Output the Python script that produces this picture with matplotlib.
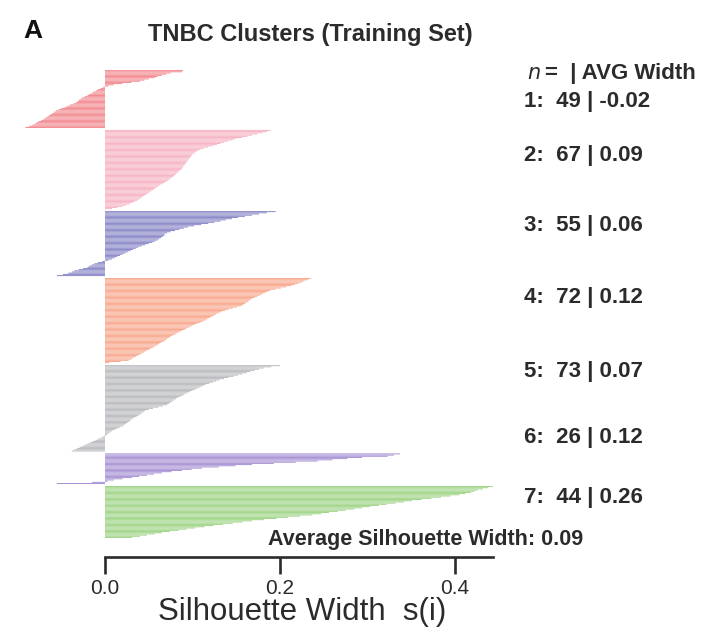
import matplotlib
matplotlib.use("Agg")
import matplotlib.pyplot as plt
import numpy as np

# ---------------- data ----------------
cluster_ids = [1, 2, 3, 4, 5, 6, 7]
cluster_n = [49, 67, 55, 72, 73, 26, 44]
cluster_avg = ["-0.02", "0.09", "0.06", "0.12", "0.07", "0.12", "0.26"]
overall_avg = "0.09"

sil_c1 = [0.089, 0.088, 0.075, 0.070, 0.065, 0.060, 0.057, 0.050, 0.045, 0.040,
          0.030, 0.020, 0.010, 0.004,
          -0.002, -0.005, -0.008, -0.010, -0.013, -0.015, -0.018, -0.020, -0.023, -0.026,
          -0.028, -0.030, -0.031, -0.033, -0.036, -0.040, -0.043, -0.046, -0.050, -0.053,
          -0.056, -0.058, -0.060, -0.062, -0.064, -0.066, -0.068, -0.070, -0.073, -0.076,
          -0.078, -0.080, -0.083, -0.087, -0.091]
sil_c2 = [0.189, 0.185, 0.180, 0.174, 0.168, 0.163, 0.157, 0.150, 0.146, 0.141,
          0.136, 0.132, 0.128, 0.123, 0.118, 0.113, 0.109, 0.106, 0.104, 0.102,
          0.100, 0.099, 0.098, 0.097, 0.096, 0.095, 0.094, 0.093, 0.092, 0.091,
          0.090, 0.089, 0.088, 0.087, 0.085, 0.084, 0.082, 0.081, 0.079, 0.078,
          0.076, 0.074, 0.072, 0.070, 0.068, 0.066, 0.063, 0.061, 0.059, 0.057,
          0.055, 0.053, 0.051, 0.049, 0.047, 0.045, 0.043, 0.041, 0.039, 0.037,
          0.034, 0.031, 0.028, 0.024, 0.020, 0.014, 0.008]
sil_c3 = [0.195, 0.185, 0.176, 0.168, 0.160, 0.152, 0.145, 0.138, 0.132, 0.125,
          0.118, 0.110, 0.102, 0.095, 0.090, 0.085, 0.080, 0.075, 0.071, 0.068,
          0.068, 0.066, 0.064, 0.062, 0.060, 0.057, 0.054, 0.050, 0.046, 0.042,
          0.038, 0.035, 0.032, 0.029, 0.026, 0.023, 0.020, 0.017, 0.014, 0.011,
          0.008, 0.004,
          -0.003, -0.008, -0.012, -0.015, -0.018, -0.020, -0.025, -0.030, -0.035, -0.038,
          -0.042, -0.048, -0.055]
sil_c4 = [0.235, 0.232, 0.228, 0.225, 0.221, 0.217, 0.213, 0.207, 0.201, 0.195,
          0.189, 0.186, 0.183, 0.180, 0.177, 0.174, 0.171, 0.168, 0.166, 0.164,
          0.162, 0.160, 0.158, 0.156, 0.151, 0.146, 0.141, 0.137, 0.133, 0.130,
          0.127, 0.125, 0.122, 0.120, 0.117, 0.115, 0.112, 0.109, 0.105, 0.102,
          0.099, 0.096, 0.093, 0.091, 0.088, 0.085, 0.082, 0.080, 0.077, 0.075,
          0.073, 0.071, 0.069, 0.067, 0.064, 0.062, 0.060, 0.057, 0.055, 0.052,
          0.050, 0.047, 0.045, 0.042, 0.040, 0.037, 0.035, 0.032, 0.030, 0.027,
          0.018, 0.005]
sil_c5 = [0.200, 0.190, 0.181, 0.176, 0.171, 0.166, 0.162, 0.157, 0.152, 0.147,
          0.141, 0.136, 0.131, 0.127, 0.123, 0.119, 0.115, 0.112, 0.109, 0.106,
          0.103, 0.100, 0.097, 0.094, 0.091, 0.089, 0.086, 0.083, 0.081, 0.079,
          0.077, 0.075, 0.073, 0.071, 0.066, 0.061, 0.055, 0.050, 0.046, 0.044,
          0.042, 0.040, 0.038, 0.036, 0.033, 0.031, 0.029, 0.028, 0.026, 0.024,
          0.022, 0.020, 0.017, 0.014, 0.011, 0.008, 0.006, 0.004, 0.002, 0.001,
          -0.002, -0.005, -0.008, -0.011, -0.014, -0.017, -0.020, -0.023, -0.026, -0.029,
          -0.032, -0.035, -0.038]
sil_c6 = [0.337, 0.330, 0.323, 0.294, 0.277, 0.260, 0.243, 0.218, 0.193, 0.168,
          0.149, 0.130, 0.111, 0.099, 0.088, 0.076, 0.065, 0.056, 0.048, 0.039,
          0.031, 0.020, 0.010, 0.003, -0.015, -0.055]
sil_c7 = [0.443, 0.438, 0.432, 0.426, 0.422, 0.418, 0.412, 0.405, 0.395, 0.384,
          0.373, 0.362, 0.351, 0.342, 0.332, 0.322, 0.313, 0.303, 0.294, 0.285,
          0.275, 0.266, 0.256, 0.247, 0.237, 0.223, 0.209, 0.196, 0.182, 0.168,
          0.157, 0.146, 0.135, 0.124, 0.114, 0.103, 0.093, 0.084, 0.074, 0.065,
          0.057, 0.048, 0.040, 0.031]
silhouettes = [sil_c1, sil_c2, sil_c3, sil_c4, sil_c5, sil_c6, sil_c7]

x_ticks = [0.0, 0.2, 0.4]
x_tick_labels = ["0.0", "0.2", "0.4"]

# ---------------- style ----------------
colors = ["#f2898f", "#f6b3c2", "#8886c6", "#f8a78c", "#b9babe", "#a791d3", "#9fd486"]
FONT = "Liberation Sans"
TXT = "#2b2b2b"
W, H = 713, 636

fig = plt.figure(figsize=(W / 100, H / 100), dpi=100)

def px(x, y):
    return x / W, 1 - y / H

left_px, right_px, top_px, bot_px = 17.5, 498.75, 70, 557
ax = fig.add_axes([left_px / W, 1 - bot_px / H, (right_px - left_px) / W, (bot_px - top_px) / H])

gap = 1.5
pos = 0.0
for vals, col in zip(silhouettes, colors):
    ys = pos + np.arange(len(vals))
    bars = ax.barh(ys, vals, height=0.82, left=0, color=col, edgecolor="none", linewidth=0)
    for b in bars:
        b.set_snap(False)
    pos = ys[-1] + 1 + gap
last = pos - gap - 1

ax.set_xlim(-0.1, 0.45)
ax.set_ylim(last + 0.5 + 16, -0.5)
for s in ["top", "right", "left"]:
    ax.spines[s].set_visible(False)
ax.spines["bottom"].set_bounds(0, 0.443)
ax.spines["bottom"].set_linewidth(1.9)
ax.spines["bottom"].set_color(TXT)
ax.set_yticks([])
ax.set_xticks(x_ticks)
ax.set_xticklabels(x_tick_labels, fontfamily=FONT, fontsize=15, color=TXT)
ax.tick_params(axis="x", direction="out", length=12, width=1.9, color=TXT, pad=4)
ax.set_xlabel("Silhouette Width  s(i)", fontfamily=FONT, fontsize=22.5, color=TXT)
ax.xaxis.set_label_coords((302 - left_px) / (right_px - left_px), -(612 - bot_px) / (bot_px - top_px))
ax.xaxis.label.set_va("center")

# texts
fig.text(*px(23, 31), "A", fontfamily=FONT, fontsize=19, fontweight="bold", color="#111111",
         ha="left", va="center")
fig.text(*px(310, 35), "TNBC Clusters (Training Set)", fontfamily=FONT, fontsize=17,
         fontweight="bold", color=TXT, ha="center", va="center")
fig.text(*px(527, 73), "$\\mathit{n}$", fontsize=15, color=TXT, ha="left", va="center")
fig.text(*px(545, 73), "=  | AVG Width", fontfamily=FONT, fontsize=16, fontweight="bold",
         color=TXT, ha="left", va="center")

label_y_px = [101, 155, 225, 297, 371, 437, 498]
for cid, n, a, yy in zip(cluster_ids, cluster_n, cluster_avg, label_y_px):
    fig.text(*px(524, yy), f"{cid}:  {n} | {a}", fontfamily=FONT, fontsize=16,
             fontweight="bold", color=TXT, ha="left", va="center")

fig.text(*px(583, 540), f"Average Silhouette Width: {overall_avg}", fontfamily=FONT,
         fontsize=15.5, fontweight="bold", color=TXT, ha="right", va="center")

fig.savefig("out.png", dpi=100)
